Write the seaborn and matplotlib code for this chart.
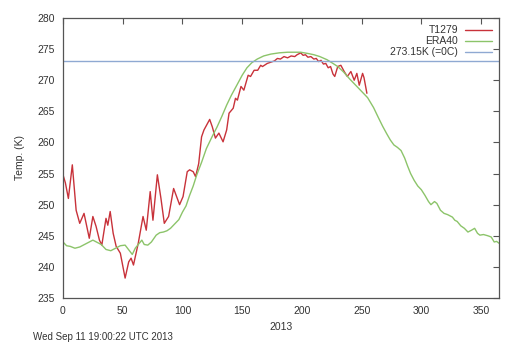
import numpy as np
import pandas as pd
import matplotlib
matplotlib.use("Agg")
import matplotlib.pyplot as plt
import seaborn as sns

# ---- data ----
t1279_day = [0, 2, 4.5, 7.8, 11, 14, 17.6, 22, 25, 27.7, 30.5, 32.5, 36, 37.5, 39.5, 42,
             44.5, 48, 52, 55, 57, 59, 63, 67, 69.7, 73, 75.3, 79, 82, 84.8, 88.4, 92.6,
             97.6, 100.5, 104, 106, 109, 111, 113.6, 116, 118, 122.8, 125, 127.6, 130.5,
             134, 137, 139, 142.5, 144.4, 146, 149, 151.4, 155, 157, 160, 163, 165.5, 167,
             171, 174, 177, 179.5, 182, 185, 188, 191, 194, 196, 199, 201, 203, 205, 207.5,
             210, 212, 214, 216, 218, 220, 222, 224, 226, 227.5, 230, 232.6, 235.4, 238,
             241, 243.8, 246, 248, 250.8, 252, 254.4]
t1279_temp = [254.8, 253.5, 251.0, 256.4, 249.1, 247.0, 248.6, 244.6, 248.1, 246.5, 244.3,
              243.5, 247.8, 246.7, 248.9, 245.4, 243.3, 242.2, 238.2, 240.8, 241.4, 240.3,
              243.8, 248.1, 245.9, 252.1, 247.5, 254.8, 251.0, 247.0, 248.1, 252.6, 250.0,
              251.3, 255.3, 255.6, 255.3, 254.5, 256.6, 260.9, 262.0, 263.7, 262.5, 260.7,
              261.5, 260.1, 262.0, 264.7, 265.5, 267.1, 266.8, 269.0, 268.4, 270.8, 270.6,
              271.6, 271.6, 272.4, 272.2, 272.7, 272.9, 273.1, 273.5, 273.4, 273.8, 273.6,
              273.9, 273.8, 274.1, 274.4, 274.0, 274.1, 273.7, 273.8, 273.4, 273.5, 273.0,
              273.2, 272.6, 272.7, 272.0, 272.2, 271.0, 270.6, 272.2, 272.4, 271.4, 270.6,
              271.4, 270.0, 271.1, 269.2, 271.1, 270.4, 267.9]

era40_day = [0, 3, 6, 10, 14, 18, 22, 25, 28, 32, 36, 40, 44, 48, 52, 55.6, 58, 60.5, 63,
             66, 68, 71, 74, 78, 81, 84, 87, 90, 94, 97, 100, 103, 106, 109, 112, 116, 120,
             125, 129, 133, 137, 141, 145.8, 150, 154, 158, 162.6, 168, 174, 181, 188, 194,
             199, 205, 210, 215, 221, 226, 230, 235, 240, 245, 249, 255, 260, 264, 267.6,
             271, 274, 277, 280, 283, 286, 288.5, 291, 294, 297, 300, 303, 306, 308, 311,
             313, 316, 319, 322, 326, 328, 330, 333, 336, 339, 342, 344.6, 347, 349, 352,
             355.7, 358.5, 361, 363, 365]
era40_temp = [244.0, 243.4, 243.3, 243.0, 243.2, 243.6, 244.0, 244.3, 244.0, 243.6, 242.8,
              242.6, 243.0, 243.4, 243.5, 242.6, 242.0, 243.0, 243.6, 244.3, 243.6, 243.5,
              244.0, 245.1, 245.5, 245.6, 245.8, 246.2, 247.0, 247.6, 248.8, 249.8, 251.5,
              253.0, 254.8, 256.8, 259.0, 261.0, 262.5, 264.2, 266.0, 267.6, 269.3, 270.8,
              272.0, 272.8, 273.4, 273.9, 274.2, 274.4, 274.5, 274.5, 274.5, 274.3, 274.1,
              273.8, 273.3, 272.7, 272.2, 271.3, 270.2, 269.2, 268.4, 267.2, 265.6, 264.0,
              262.6, 261.4, 260.4, 259.6, 259.2, 258.7, 257.5, 256.2, 255.0, 253.9, 253.0,
              252.4, 251.5, 250.5, 250.0, 250.5, 250.2, 249.1, 248.6, 248.4, 248.0, 247.5,
              247.3, 246.6, 246.2, 245.6, 245.9, 246.2, 245.4, 245.1, 245.2, 245.0, 244.8,
              244.0, 244.1, 243.8]

freeze_day = [0, 365]
freeze_temp = [273.15, 273.15]

series_labels = ["T1279", "ERA40", "273.15K (=0C)"]
x_ticks = [0, 50, 100, 150, 200, 250, 300, 350]
y_ticks = [235, 240, 245, 250, 255, 260, 265, 270, 275, 280]

df = pd.concat([
    pd.DataFrame({"day": t1279_day, "temp": t1279_temp, "series": series_labels[0]}),
    pd.DataFrame({"day": era40_day, "temp": era40_temp, "series": series_labels[1]}),
    pd.DataFrame({"day": freeze_day, "temp": freeze_temp, "series": series_labels[2]}),
])

sns.set_style("white")
plt.rcParams["font.family"] = ["Liberation Sans", "DejaVu Sans"]

fig = plt.figure(figsize=(5.2, 3.53), dpi=100)
ax = fig.add_axes([63 / 520, 1 - 298 / 353, (499 - 63) / 520, (298 - 18) / 353])

palette = {series_labels[0]: "#c8323a", series_labels[1]: "#8cc46a", series_labels[2]: "#8fa9d2"}
sns.lineplot(data=df, x="day", y="temp", hue="series", palette=palette,
             hue_order=series_labels, ax=ax, linewidth=1.0, sort=False, estimator=None)

ax.set_xlim(0, 365)
ax.set_ylim(235, 280)
ax.set_xticks(x_ticks)
ax.set_yticks(y_ticks)
ax.tick_params(direction="in", length=4, width=0.8, colors="#555555", labelcolor="#333333",
               labelsize=7.5, top=True, right=True, labeltop=False, labelright=False, pad=6)
for s in ax.spines.values():
    s.set_color("#555555")
    s.set_linewidth(0.9)

ax.set_xlabel("2013", fontsize=7.5, color="#333333", labelpad=4)
ax.set_ylabel("Temp. (K)", fontsize=7.5, color="#333333", labelpad=9)

leg = ax.legend(loc="upper right", frameon=False, markerfirst=False, fontsize=7.5,
                handlelength=2.6, labelspacing=0.1, borderaxespad=0.3, handletextpad=0.6)
for t in leg.get_texts():
    t.set_color("#333333")
    t.set_ha("right")
leg._legend_box.align = "right"

fig.text(33 / 520, 1 - 337 / 353, "Wed Sep 11 19:00:22 UTC 2013", fontsize=7,
         color="#333333", va="center", ha="left")

fig.savefig("out.png", dpi=100, facecolor="white")
